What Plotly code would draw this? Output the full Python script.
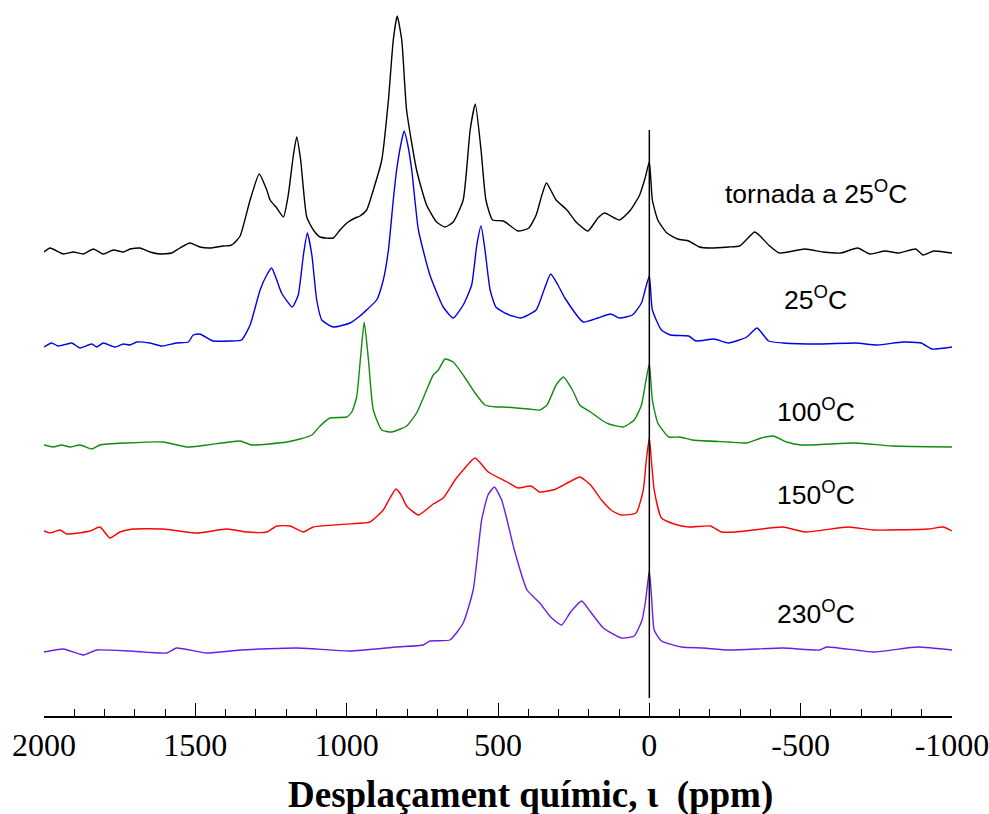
import plotly.graph_objects as go

# ---- data (ppm, intensity above each trace's own baseline) ----
black_ppm = [2000, 1980, 1936, 1903, 1870, 1837, 1804, 1771, 1738, 1716, 1683, 1650, 1617, 1578, 1551, 1518,
             1485, 1452, 1408, 1385, 1375, 1352, 1319, 1289, 1264, 1253, 1231, 1209, 1193, 1176, 1165, 1152,
             1132, 1110, 1088, 1044, 1022, 995, 972, 956, 934, 912, 884, 862, 846, 833, 818, 802, 769, 736,
             703, 675, 648, 615, 592, 575, 556, 540, 518, 482, 434, 398, 374, 355, 340, 308, 272, 242, 203,
             170, 148, 98, 62, 32, 14, 0, -10, -28, -58, -94, -130, -166, -202, -262, -298, -326, -348, -366,
             -394, -430, -514, -574, -633, -688, -729, -778, -825, -880, -904, -940, -1000]
black_int = [0, 4, -2, 0, -2, 3, -2, 2, 0, 3, 4, 0, -2, -1, 4, 9,
             5, 4, 6, 6.5, 8, 16, 52, 78, 62, 52, 44, 35, 57, 97, 115, 92,
             35, 22, 15, 14, 22, 30, 34, 36, 42, 62, 92, 152, 212, 236, 212, 142, 82, 47,
             30, 25, 30, 52, 122, 148, 102, 52, 32, 31, 21, 24, 37, 57, 69, 52, 42, 30, 21,
             34, 39, 32, 42, 57, 74, 90, 52, 32, 19, 13, 11, 5, 4, 5, 6, 14, 20, 16,
             7, -1, 3, 0, -1, 4, -2, 1, -1, 3, -3, 1, -1]

blue_ppm = [2000, 1975, 1953, 1908, 1881, 1842, 1826, 1804, 1765, 1738, 1716, 1694, 1650, 1611, 1562, 1523,
            1507, 1485, 1441, 1385, 1347, 1319, 1286, 1264, 1248, 1231, 1215, 1180, 1160, 1143, 1130, 1115,
            1099, 1082, 1044, 989, 956, 945, 901, 879, 862, 846, 835, 818, 810, 798, 785, 763, 725, 681,
            648, 615, 587, 570, 556, 543, 526, 507, 470, 424, 374, 348, 326, 302, 279, 218, 170, 128, 98,
            56, 26, 14, 0, -10, -40, -70, -130, -154, -214, -262, -322, -356, -394, -442, -562, -682, -754,
            -838, -898, -934, -1000]
blue_int = [-2, 2, -1, 2, -3, 1, -2, 2, -2, 1, 0, 3, 2, -1, 2, 3,
            10, 11, 4, 4, 5, 20, 55, 70, 77, 65, 52, 38, 50, 90, 112, 90,
            45, 25, 18, 22, 29, 32, 45, 65, 95, 145, 175, 205, 214, 200, 175, 115, 70, 38,
            27, 40, 60, 100, 119, 95, 55, 38, 31, 27, 35, 55, 71, 60, 47, 23, 27, 31, 27,
            30, 42, 55, 69, 35, 15, 10, 9, 4, 6, 2, 8, 17, 4, 2, 1, 2, 0,
            3, 2, -4, -2]

green_ppm = [2000, 1969, 1942, 1914, 1881, 1842, 1815, 1727, 1606, 1528, 1462, 1352, 1314, 1198, 1154, 1115,
             1088, 1055, 1000, 983, 967, 954, 942, 928, 912, 884, 851, 802, 769, 736, 714, 697, 675, 648,
             615, 576, 543, 504, 482, 398, 362, 338, 308, 284, 254, 230, 194, 158, 134, 86, 50, 26, 11, 0,
             -10, -28, -64, -100, -142, -262, -322, -370, -409, -454, -502, -682, -802, -1000]
green_int = [0, -2, 0, -2, 0, -4, 0, 2, 3, -2, 0, 4, 0, 3, 6, 10,
             19, 27, 28, 33, 48, 88, 123, 85, 35, 15, 13, 19, 32, 55, 70, 75, 86, 83,
             70, 52, 40, 38, 38, 36, 35, 40, 60, 68, 55, 40, 33, 25, 21, 18, 25, 40, 65, 81,
             45, 22, 8, 8, 5, 3, 2, 7, 9, 3, 0, 2, -1, -2]

red_ppm = [2000, 1980, 1947, 1925, 1848, 1815, 1782, 1749, 1706, 1606, 1495, 1396, 1330, 1264, 1231, 1187,
           1143, 1110, 945, 923, 879, 857, 837, 820, 802, 763, 714, 681, 642, 615, 576, 532, 470, 434,
           392, 362, 308, 265, 229, 194, 158, 122, 92, 44, 20, 10, 0, -8, -16, -40, -82, -130, -202,
           -238, -286, -442, -514, -658, -742, -922, -970, -1000]
red_int = [-1, -3, 0, -4, -1, 3, -8, -2, 1, 1, -3, 1, -2, -2, 4, 4,
           -2, 3, 7, 8, 20, 32, 41, 35, 24, 15, 26, 32, 50, 60, 72, 58, 48, 42,
           44, 38, 41, 48, 53, 45, 30, 19, 15, 17, 40, 70, 92, 65, 40, 12, 6, 3, 4,
           -2, -2, 3, -2, 3, 0, 1, 3, -1]

purple_ppm = [2000, 1936, 1870, 1826, 1716, 1595, 1562, 1462, 1352, 1165, 989, 835, 747, 725, 659, 615,
              582, 554, 533, 512, 488, 470, 446, 404, 362, 326, 290, 260, 224, 194, 152, 92, 50, 24, 12,
              0, -8, -16, -40, -106, -178, -262, -442, -562, -586, -742, -886, -1000]
purple_int = [-1, 2, -4, 1, 0, -2, 3, -2, 1, 3, 0, 4, 6, 10, 11, 28,
              61, 131, 156, 164, 151, 131, 101, 61, 48, 34, 26, 39, 50, 39, 23, 13, 15, 31, 51,
              80, 51, 21, 10, 4, 3, 1, 3, 1, 4, -1, 4, 1]

series_names = ["tornada a 25<sup>O</sup>C", "25<sup>O</sup>C", "100<sup>O</sup>C", "150<sup>O</sup>C", "230<sup>O</sup>C"]
series_ppm = [black_ppm, blue_ppm, green_ppm, red_ppm, purple_ppm]
series_int = [black_int, blue_int, green_int, red_int, purple_int]
stack_offsets = [464, 371, 271, 186, 65]
label_y = [524, 418, 306, 223, 104]
series_colors = ["#000000", "#0000e6", "#118a11", "#ff0000", "#6a1ee0"]

tick_vals = [2000, 1500, 1000, 500, 0, -500, -1000]
tick_text = ["2000", "1500", "1000", "500", "0", "-500", "-1000"]

fig = go.Figure()
for ppm, inten, off, col, name in zip(series_ppm, series_int, stack_offsets, series_colors, series_names):
    fig.add_trace(go.Scatter(x=ppm, y=[v + off for v in inten], mode="lines",
                             line=dict(color=col, width=1.4, shape="spline", smoothing=0.5),
                             name=name, showlegend=False, hoverinfo="skip"))

for name, ly in zip(series_names, label_y):
    fig.add_annotation(x=-550, y=ly, xref="x", yref="y", text=name, showarrow=False,
                       font=dict(family="Liberation Sans, Arial, sans-serif", size=26.5, color="black"),
                       xanchor="center", yanchor="middle")

# reference line at 0 ppm
fig.add_shape(type="line", x0=0, x1=0, y0=18, y1=586, xref="x", yref="y",
              line=dict(color="black", width=1.5))

fig.add_annotation(x=0.536, y=-0.110, xref="paper", yref="paper",
                   text="<b>Desplaçament químic, ι  (ppm)</b>", showarrow=False,
                   font=dict(family="Liberation Serif, Times New Roman, serif", size=37, color="black"),
                   xanchor="center", yanchor="middle")

fig.update_layout(
    width=989, height=814,
    margin=dict(l=44, r=37, t=0, b=98, autoexpand=False),
    plot_bgcolor="white", paper_bgcolor="white",
    xaxis=dict(range=[2000, -1000], tickvals=tick_vals, ticktext=tick_text, automargin=False,
               ticklabeloverflow="allow",
               ticks="inside", ticklen=13, tickwidth=1.3, tickcolor="black",
               showline=True, linecolor="black", linewidth=1.5,
               showgrid=False, zeroline=False,
               minor=dict(dtick=100, ticks="inside", ticklen=7, tickwidth=1.3, tickcolor="black", showgrid=False),
               tickfont=dict(family="Liberation Serif, Times New Roman, serif", size=32, color="black")),
    yaxis=dict(range=[0, 716], visible=False, showgrid=False, zeroline=False, automargin=False),
)

fig.write_html("out.html", config={"displayModeBar": False},
               post_script="document.body.style.margin='0';document.body.style.overflow='hidden';")
